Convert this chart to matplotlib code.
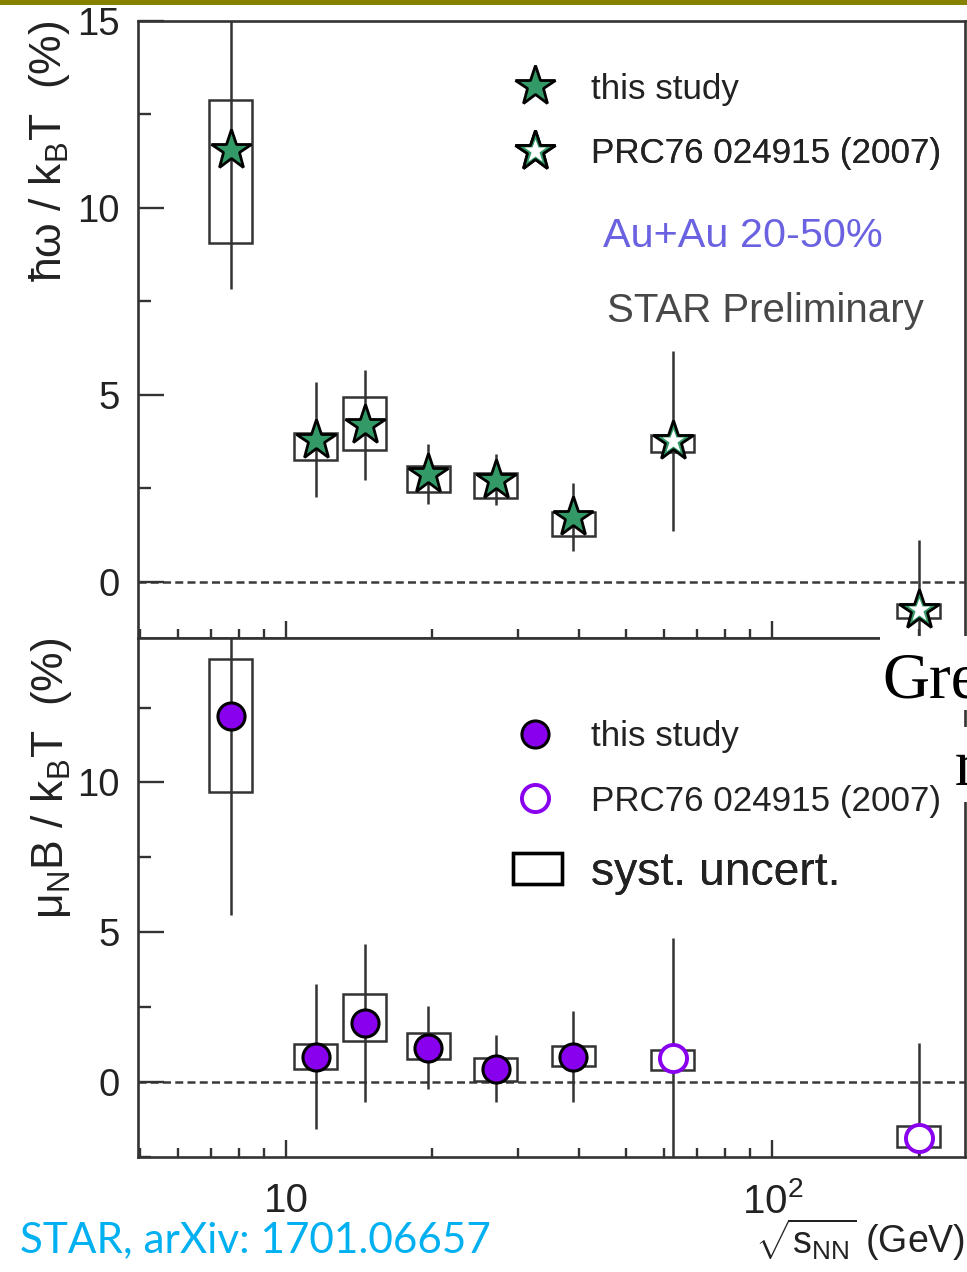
import matplotlib
matplotlib.use('Agg')
import matplotlib.pyplot as plt
from matplotlib.patches import Rectangle, Patch
from matplotlib.lines import Line2D
from matplotlib.legend_handler import HandlerTuple
from matplotlib.ticker import MultipleLocator, LogLocator, NullFormatter, FixedLocator

plt.rcParams['font.family'] = ['Liberation Sans', 'DejaVu Sans']
plt.rcParams['mathtext.fontset'] = 'custom'
plt.rcParams['mathtext.rm'] = 'Liberation Sans'
plt.rcParams['mathtext.it'] = 'Liberation Sans:italic'
plt.rcParams['mathtext.bf'] = 'Liberation Sans:bold'

# ---------------- data ----------------
energy = [7.7, 11.5, 14.5, 19.6, 27, 39, 62.4, 200]
this_study = [True, True, True, True, True, True, False, False]

omega_val = [11.55, 3.80, 4.20, 2.89, 2.73, 1.74, 3.77, -0.75]
omega_stat = [3.72, 1.54, 1.48, 0.81, 0.68, 0.91, 2.40, 1.87]
omega_sys_lo = [9.06, 3.26, 3.53, 2.41, 2.25, 1.23, 3.48, -0.96]
omega_sys_hi = [12.89, 3.98, 4.95, 3.10, 2.91, 1.87, 3.93, -0.59]

mub_val = [12.22, 0.85, 1.98, 1.15, 0.45, 0.85, 0.82, -1.85]
mub_stat = [6.64, 2.43, 2.63, 1.38, 1.13, 1.53, 4.00, 3.17]
mub_sys_lo = [9.68, 0.45, 1.38, 0.78, 0.05, 0.55, 0.42, -2.18]
mub_sys_hi = [14.12, 1.28, 2.95, 1.65, 0.82, 1.22, 1.08, -1.48]

xtick_vals = [10, 100]
xtick_labels = ['10', '$10^{2}$']
legend_labels = ['this study', 'PRC76 024915 (2007)', 'syst. uncert.']

# ---------------- style ----------------
W, H = 967, 1272
GREEN = '#339966'
PURPLE = '#8800ee'
DARK = '#333333'
TXT = '#222222'
HW = 0.044  # half width of syst boxes (decades)
STAR_MS = 30
STAR_IN = 17
CIRC_MS = 19.5

fig = plt.figure(figsize=(W / 100, H / 100), dpi=100)
fig.patch.set_facecolor('white')

ax1 = fig.add_axes([138 / W, 1 - 638 / H, 827 / W, 617 / H])
ax2 = fig.add_axes([138 / W, 1 - 1157 / H, 827 / W, 519 / H])


def style_axes(ax, ylim):
    ax.set_xscale('log')
    ax.set_xlim(4.96, 249)
    ax.set_ylim(*ylim)
    ax.yaxis.set_major_locator(MultipleLocator(5))
    ax.yaxis.set_minor_locator(MultipleLocator(2.5))
    ax.xaxis.set_major_locator(FixedLocator(xtick_vals))
    ax.xaxis.set_minor_locator(LogLocator(base=10, subs=[2, 3, 4, 5, 6, 7, 8, 9]))
    ax.xaxis.set_minor_formatter(NullFormatter())
    for s in ax.spines.values():
        s.set_color(DARK)
        s.set_linewidth(1.9)
    ax.tick_params(which='both', direction='in', top=False, right=False, color=DARK, width=1.7)
    ax.tick_params(axis='x', which='major', length=12.5)
    ax.tick_params(axis='x', which='minor', length=6.5)
    ax.tick_params(axis='y', which='major', length=18.7, pad=13, labelsize=27.5, labelcolor=TXT)
    ax.tick_params(axis='y', which='minor', length=9.4)
    ax.axhline(0, color='#3a3a3a', lw=1.8, ls=(0, (3.2, 1.7)), zorder=1)


def draw_points(ax, vals, stat, lo, hi, kind):
    ax.errorbar(energy, vals, yerr=stat, fmt='none', ecolor=DARK, elinewidth=1.8, capsize=0, zorder=2)
    for x, l, h in zip(energy, lo, hi):
        x0 = x * 10 ** (-HW)
        x1 = x * 10 ** HW
        ax.add_patch(Rectangle((x0, l), x1 - x0, h - l, fill=False, ec=DARK, lw=1.8, zorder=3))
    xs_f = [x for x, t in zip(energy, this_study) if t]
    ys_f = [y for y, t in zip(vals, this_study) if t]
    xs_o = [x for x, t in zip(energy, this_study) if not t]
    ys_o = [y for y, t in zip(vals, this_study) if not t]
    if kind == 'star':
        ax.plot(xs_f, ys_f, ls='none', marker='*', ms=STAR_MS, mfc=GREEN, mec='black', mew=2.0, zorder=5)
        ax.plot(xs_o, ys_o, ls='none', marker='*', ms=STAR_MS, mfc=GREEN, mec='black', mew=2.0, zorder=5)
        ax.plot(xs_o, ys_o, ls='none', marker='*', ms=STAR_IN, mfc='white', mec='none', zorder=6)
    else:
        ax.plot(xs_f, ys_f, ls='none', marker='o', ms=CIRC_MS, mfc=PURPLE, mec='black', mew=2.2, zorder=5)
        ax.plot(xs_o, ys_o, ls='none', marker='o', ms=CIRC_MS, mfc='white', mec=PURPLE, mew=2.8, zorder=5)


style_axes(ax1, (-1.5, 15))
style_axes(ax2, (-2.5, 14.82))
ax1.tick_params(axis='x', which='both', labelbottom=False)
ax2.set_xticks(xtick_vals)
ax2.set_xticklabels(xtick_labels)
ax2.tick_params(axis='x', which='major', pad=18, labelsize=29, labelcolor=TXT)

draw_points(ax1, omega_val, omega_stat, omega_sys_lo, omega_sys_hi, 'star')
draw_points(ax2, mub_val, mub_stat, mub_sys_lo, mub_sys_hi, 'circle')


def add_entry(ax, handle, label, xc, yc, fs, hl, pad, hh=0.7):
    fs_px = fs * 100 / 72
    anchor_x = (xc - hl * fs_px / 2) / W
    leg = ax.legend([handle], [label], loc='center left',
                    bbox_to_anchor=(anchor_x, 1 - yc / H), bbox_transform=fig.transFigure,
                    frameon=False, fontsize=fs, handlelength=hl, handletextpad=pad,
                    handleheight=hh, borderpad=0, borderaxespad=0, numpoints=1,
                    labelcolor=TXT, handler_map={tuple: HandlerTuple(ndivide=1, pad=0)})
    ax.add_artist(leg)


star_f = Line2D([], [], ls='none', marker='*', ms=STAR_MS, mfc=GREEN, mec='black', mew=2.0)
star_o = (Line2D([], [], ls='none', marker='*', ms=STAR_MS, mfc=GREEN, mec='black', mew=2.0),
          Line2D([], [], ls='none', marker='*', ms=STAR_IN, mfc='white', mec='none'))
circ_f = Line2D([], [], ls='none', marker='o', ms=CIRC_MS, mfc=PURPLE, mec='black', mew=2.2)
circ_o = Line2D([], [], ls='none', marker='o', ms=CIRC_MS, mfc='white', mec=PURPLE, mew=2.8)
box_h = Patch(facecolor='none', edgecolor='black', lw=2.4)

FS_LEG = 25.2
add_entry(ax1, star_f, legend_labels[0], 535, 89, FS_LEG, 1.9, 0.64)
add_entry(ax1, star_o, legend_labels[1], 535, 154, FS_LEG, 1.9, 0.64)
add_entry(ax2, circ_f, legend_labels[0], 535, 737, FS_LEG, 1.9, 0.64)
add_entry(ax2, circ_o, legend_labels[1], 535, 801, FS_LEG, 1.9, 0.64)
add_entry(ax2, box_h, legend_labels[2], 537.5, 873, 33.3, 1.05, 0.64, hh=0.65)

fig.text(603 / W, 1 - 236 / H, 'Au+Au 20-50%', ha='left', va='center', fontsize=29.8, color='#6a62e0')
fig.text(607 / W, 1 - 311 / H, 'STAR Preliminary', ha='left', va='center', fontsize=29, color='#484848')

fig.text(50 / W, 1 - 20 / H, 'ħω / k$_{\\rm B}$T  (%)', rotation=90, ha='center', va='top',
         fontsize=32, color=TXT)
fig.text(52 / W, 1 - 638 / H, 'μ$_{\\rm N}$B / k$_{\\rm B}$T  (%)', rotation=90, ha='center', va='top',
         fontsize=32, color=TXT)
fig.text(965 / W, 1 - 1240 / H, r'$\sqrt{\rm s_{NN}}$ (GeV)', ha='right', va='center',
         fontsize=27, color=TXT)
fig.text(20 / W, 1 - 1240 / H, 'STAR, arXiv: 1701.06657', ha='left', va='center',
         fontsize=30.4, color='#00b0f0', family=['Lato', 'DejaVu Sans'])

# slide decorations
fig.patches.append(Rectangle((0, 1 - 5 / H), 1, 5 / H, transform=fig.transFigure,
                             facecolor='#868200', edgecolor='none', zorder=10))
fig.patches.append(Rectangle((880 / W, 1 - 710 / H), 90 / W, 74 / H, transform=fig.transFigure,
                             facecolor='white', edgecolor='none', zorder=10))
fig.patches.append(Rectangle((948 / W, 1 - 802 / H), 22 / W, 75 / H, transform=fig.transFigure,
                             facecolor='white', edgecolor='none', zorder=10))
fig.text(882 / W, 1 - 698 / H, 'Gre', ha='left', va='baseline', fontsize=47, color='black',
         family=['Liberation Serif', 'DejaVu Serif'], zorder=11)
fig.text(955 / W, 1 - 785 / H, 'r', ha='left', va='baseline', fontsize=47, color='black',
         family=['Liberation Serif', 'DejaVu Serif'], zorder=11)

fig.savefig('out.png', dpi=100)
